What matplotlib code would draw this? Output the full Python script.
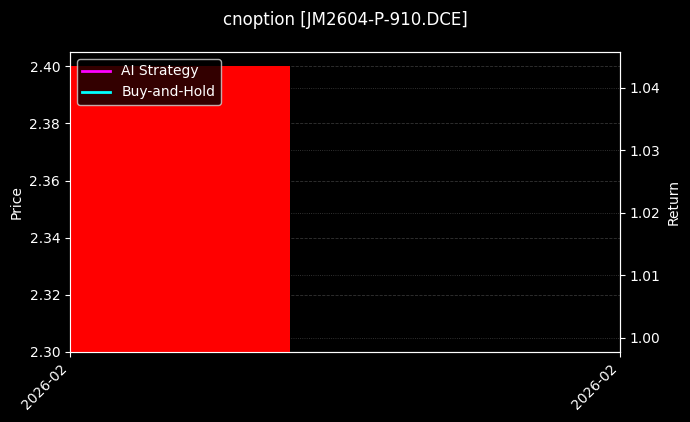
import matplotlib
matplotlib.use('Agg')
import matplotlib.pyplot as plt
import matplotlib.dates as mdates
import numpy as np
import datetime as dt

# data
symbol = 'cnoption [JM2604-P-910.DCE]'
dates = [dt.datetime(2026, 2, 2)]
open_px = [2.40]
close_px = [2.30]
strategy_labels = ['AI Strategy', 'Buy-and-Hold']
strategy_colors = ['magenta', 'cyan']
price_lim = (2.30, 2.405)
return_lim = (0.99776, 1.0457)

plt.style.use('dark_background')
fig = plt.figure(figsize=(6.9, 4.22), dpi=100)
ax = fig.add_axes([0.1014, 0.1659, 0.7972, 0.7109])
ax2 = ax.twinx()
# price axis on top so the bar hides the return grid
ax.set_zorder(ax2.get_zorder() + 1)
ax.patch.set_visible(False)

x = mdates.date2num(dates)
w = 0.8
bottoms = np.minimum(open_px, close_px)
heights = np.abs(np.array(open_px) - np.array(close_px))
cols = ['red' if c < o else 'lime' for o, c in zip(open_px, close_px)]
ax.bar(x, heights, bottom=bottoms, width=w, color=cols, zorder=2)
ax.set_xlim(x[0] - w / 2, x[0] + 1.6)
ax.set_ylim(*price_lim)
ax.set_yticks(np.arange(2.30, 2.401, 0.02))
ax.set_ylabel('Price')
ax.grid(True, axis='y', ls='--', lw=0.6, color='gray', alpha=0.4, zorder=0)
ax.set_xticks([x[0] - w / 2, x[0] + 1.6])
ax.xaxis.set_major_formatter(mdates.DateFormatter('%Y-%m'))
plt.setp(ax.get_xticklabels(), rotation=45, ha='right')

handles = []
for lab, c in zip(strategy_labels, strategy_colors):
    h, = ax2.plot([], [], color=c, lw=2, label=lab)
    handles.append(h)
ax2.set_ylim(*return_lim)
ax2.set_yticks([1.00, 1.01, 1.02, 1.03, 1.04])
ax2.set_ylabel('Return')
ax2.grid(True, ls=':', lw=0.6, color='gray', alpha=0.5)
ax.legend(handles=handles, loc='upper left', framealpha=0.8, facecolor='black', edgecolor='lightgray')

fig.suptitle(symbol, y=0.975)
fig.savefig('out.png', dpi=100, facecolor='black')
